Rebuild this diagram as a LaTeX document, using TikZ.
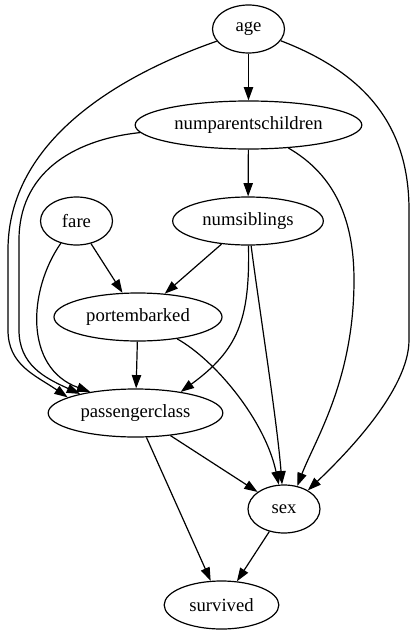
\documentclass[tikz,border=0pt]{standalone}
\usepackage{fontspec}
\setmainfont{Liberation Serif}
\usetikzlibrary{shapes.geometric}
\usetikzlibrary{arrows.meta}

\tikzset{
    var/.style={ellipse, draw, line width=0.9pt, inner sep=0pt, minimum height=36pt,
        font=\fontsize{14}{16}\selectfont},
    edge/.style={line width=0.9pt, -{Triangle[length=10pt,width=7pt]}}
}

\begin{document}
\begin{tikzpicture}[x=0.75pt, y=-0.75pt]
    \useasboundingbox (0,0) rectangle (416,635);
    % variables: name/label/x/y/width
    \foreach \n/\t/\x/\y/\w in {age/age/248.5/29/54,
                                npc/numparentschildren/248.5/125/170,
                                fare/fare/76.5/221/54,
                                nsib/numsiblings/248/221/113,
                                port/portembarked/138/317/126,
                                pclass/passengerclass/135.5/413/131,
                                sex/sex/284/509/54,
                                surv/survived/221.5/605/86}
        \node[var, minimum width=\w pt] (\n) at (\x,\y) {\t};
    % straight edges
    \foreach \a/\b in {age/npc, npc/nsib, fare/port, nsib/port,
                       port/pclass, pclass/sex, pclass/surv, sex/surv}
        \draw[edge] (\a) -- (\b);
    % curved edges
    \draw[edge] (age.201) .. controls (120,75) and (8,140) .. (8,250)
        -- (8,330) .. controls (8,365) and (35,375) .. (pclass.167);
    \draw[edge] (npc.184) .. controls (70,140) and (19,175) .. (19,240)
        -- (19,330) .. controls (19,365) and (45,378) .. (pclass.161);
    \draw[edge] (fare) .. controls (28,290) and (24,368) .. (pclass.155);
    \draw[edge] (nsib) .. controls (250,320) and (238,350) .. (pclass.25);
    \draw[edge] (age.-20) .. controls (370,75) and (409,130) .. (409,210)
        -- (409,340) .. controls (409,390) and (345,455) .. (sex.38);
    \draw[edge] (npc.-30) .. controls (335,175) and (354,220) .. (354,280)
        .. controls (354,380) and (315,440) .. (sex.60);
    \draw[edge] (nsib) .. controls (258,300) and (277,420) .. (sex);
    \draw[edge] (port) .. controls (215,360) and (265,420) .. (sex);
\end{tikzpicture}
\end{document}
